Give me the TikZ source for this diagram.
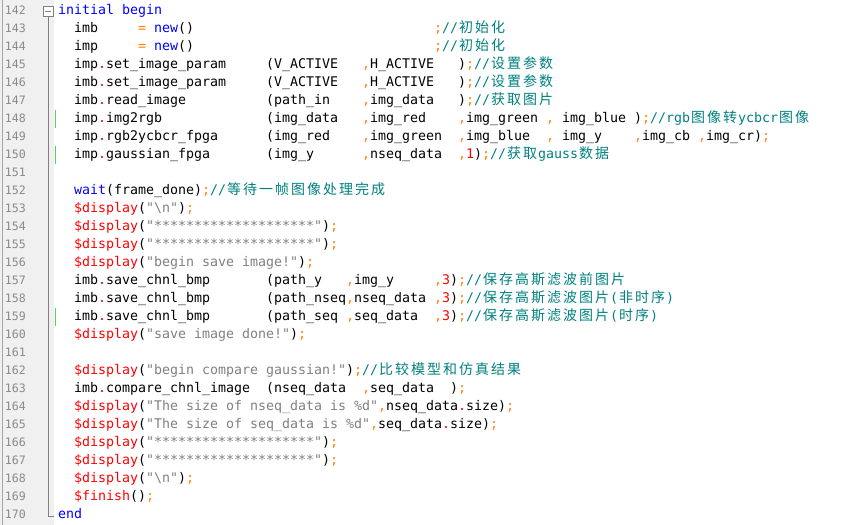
\documentclass[tikz,border=0pt]{standalone}
\usepackage{fontspec}
\newfontfamily\codefont{DejaVu Sans Mono}
\newfontfamily\cjkfont{Noto Sans CJK SC}
\definecolor{kwc}{HTML}{0000FF}
\definecolor{opc}{HTML}{FF8000}
\definecolor{rdc}{HTML}{FF0000}
\definecolor{stc}{HTML}{808080}
\definecolor{cmc}{HTML}{008080}
\definecolor{gutc}{HTML}{F0F0F0}
\definecolor{numc}{HTML}{8A8A8A}
\definecolor{foldc}{HTML}{808080}
\definecolor{chgc}{HTML}{5ACD5A}
\def\ckw#1{\textcolor{kwc}{#1}}
\def\cop#1{\textcolor{opc}{#1}}
\def\cdt#1{\textcolor{rdc}{#1}}
\def\crd#1{\textcolor{rdc}{#1}}
\def\cst#1{\textcolor{stc}{#1}}
\def\ccm#1{\textcolor{cmc}{#1}}
\def\czh#1{{\color{cmc}\czhloop#1\relax}}
\def\czhloop#1{\ifx\relax#1\else\makebox[16pt][c]{\cjkfont\fontsize{14}{16}\selectfont#1}\expandafter\czhloop\fi}
\def\spc#1{\hspace*{#1\fontcharwd\font`0}}
\def\codeln#1#2{\node[codetext] (l#1) at (58,{14.5+18*(#1-142)}) {#2};}
\tikzset{
  codetext/.style={anchor=base west, inner sep=0pt, outer sep=0pt,
    font=\codefont\fontsize{13.29}{16}\selectfont\frenchspacing},
  numtext/.style={anchor=base west, inner sep=0pt, outer sep=0pt, text=numc,
    font=\codefont\fontsize{11.6}{14}\selectfont},
  chgmark/.style={draw=chgc, line width=1pt},
  foldline/.style={draw=foldc, line width=1pt},
}
\begin{document}
\begin{tikzpicture}[x=1pt,y=-1pt]
\useasboundingbox (0,0) rectangle (863,525);
\fill[white] (0,0) rectangle (863,525);
\fill[gutc] (0,0) rectangle (54,525);
\draw[line width=1pt, draw=gray!70] (2.5,0) -- (2.5,525);
% line numbers
\foreach \n in {142,...,170}{
  \node[numtext] (n\n) at (5,{14.5+18*(\n-142)}) {\n};
}
% fold marker
\node[draw=foldc, fill=white, line width=0.8pt, minimum size=10pt, inner sep=0pt] (fold) at (48,11) {};
\draw[foldc, line width=1pt] ([xshift=-3pt]fold.center) -- ([xshift=3pt]fold.center);
\coordinate (foldend) at (48,516.5);
\coordinate (foldtip) at (54,516.5);
\draw[foldline] (fold.south) -- (foldend) -- (foldtip);
% change markers
\foreach \n in {148,150,159}{
  \draw[chgmark] (55.5,{14.5+18*(\n-142)-13}) -- ++(0,18);
}
% code
\codeln{142}{\ckw{initial begin}}
\codeln{143}{\spc{2}imb\spc{5}\cop{=}\spc{1}\ckw{new}()\spc{30}\cop{;}\ccm{//}\czh{初始化}}
\codeln{144}{\spc{2}imp\spc{5}\cop{=}\spc{1}\ckw{new}()\spc{30}\cop{;}\ccm{//}\czh{初始化}}
\codeln{145}{\spc{2}imp\cdt{.}set\_image\_param\spc{5}(V\_ACTIVE\spc{3}\cop{,}H\_ACTIVE\spc{3})\cop{;}\ccm{//}\czh{设置参数}}
\codeln{146}{\spc{2}imb\cdt{.}set\_image\_param\spc{5}(V\_ACTIVE\spc{3}\cop{,}H\_ACTIVE\spc{3})\cop{;}\ccm{//}\czh{设置参数}}
\codeln{147}{\spc{2}imb\cdt{.}read\_image\spc{10}(path\_in\spc{4}\cop{,}img\_data\spc{3})\cop{;}\ccm{//}\czh{获取图片}}
\codeln{148}{\spc{2}imp\cdt{.}img2rgb\spc{13}(img\_data\spc{3}\cop{,}img\_red\spc{4}\cop{,}img\_green\spc{1}\cop{,}\spc{1}img\_blue\spc{1})\cop{;}\ccm{//rgb}\czh{图像转}\ccm{ycbcr}\czh{图像}}
\codeln{149}{\spc{2}imp\cdt{.}rgb2ycbcr\_fpga\spc{6}(img\_red\spc{4}\cop{,}img\_green\spc{2}\cop{,}img\_blue\spc{2}\cop{,}\spc{1}img\_y\spc{4}\cop{,}img\_cb\spc{1}\cop{,}img\_cr)\cop{;}}
\codeln{150}{\spc{2}imp\cdt{.}gaussian\_fpga\spc{7}(img\_y\spc{6}\cop{,}nseq\_data\spc{2}\cop{,}\crd{1})\cop{;}\ccm{//}\czh{获取}\ccm{gauss}\czh{数据}}
\codeln{152}{\spc{2}\ckw{wait}(frame\_done)\cop{;}\ccm{//}\czh{等待一帧图像处理完成}}
\codeln{153}{\spc{2}\crd{\$display}(\cst{"\textbackslash n"})\cop{;}}
\codeln{154}{\spc{2}\crd{\$display}(\cst{"********************"})\cop{;}}
\codeln{155}{\spc{2}\crd{\$display}(\cst{"********************"})\cop{;}}
\codeln{156}{\spc{2}\crd{\$display}(\cst{"begin save image!"})\cop{;}}
\codeln{157}{\spc{2}imb\cdt{.}save\_chnl\_bmp\spc{7}(path\_y\spc{3}\cop{,}img\_y\spc{5}\cop{,}\crd{3})\cop{;}\ccm{//}\czh{保存高斯滤波前图片}}
\codeln{158}{\spc{2}imb\cdt{.}save\_chnl\_bmp\spc{7}(path\_nseq\cop{,}nseq\_data\spc{1}\cop{,}\crd{3})\cop{;}\ccm{//}\czh{保存高斯滤波图片}\ccm{(}\czh{非时序}\ccm{)}}
\codeln{159}{\spc{2}imb\cdt{.}save\_chnl\_bmp\spc{7}(path\_seq\spc{1}\cop{,}seq\_data\spc{2}\cop{,}\crd{3})\cop{;}\ccm{//}\czh{保存高斯滤波图片}\ccm{(}\czh{时序}\ccm{)}}
\codeln{160}{\spc{2}\crd{\$display}(\cst{"save image done!"})\cop{;}}
\codeln{162}{\spc{2}\crd{\$display}(\cst{"begin compare gaussian!"})\cop{;}\ccm{//}\czh{比较模型和仿真结果}}
\codeln{163}{\spc{2}imb\cdt{.}compare\_chnl\_image\spc{2}(nseq\_data\spc{2}\cop{,}seq\_data\spc{2})\cop{;}}
\codeln{164}{\spc{2}\crd{\$display}(\cst{"The size of nseq\_data is \%d"}\cop{,}nseq\_data\cdt{.}size)\cop{;}}
\codeln{165}{\spc{2}\crd{\$display}(\cst{"The size of seq\_data is \%d"}\cop{,}seq\_data\cdt{.}size)\cop{;}}
\codeln{166}{\spc{2}\crd{\$display}(\cst{"********************"})\cop{;}}
\codeln{167}{\spc{2}\crd{\$display}(\cst{"********************"})\cop{;}}
\codeln{168}{\spc{2}\crd{\$display}(\cst{"\textbackslash n"})\cop{;}}
\codeln{169}{\spc{2}\crd{\$finish}()\cop{;}}
\codeln{170}{\ckw{end}}
\end{tikzpicture}
\end{document}
